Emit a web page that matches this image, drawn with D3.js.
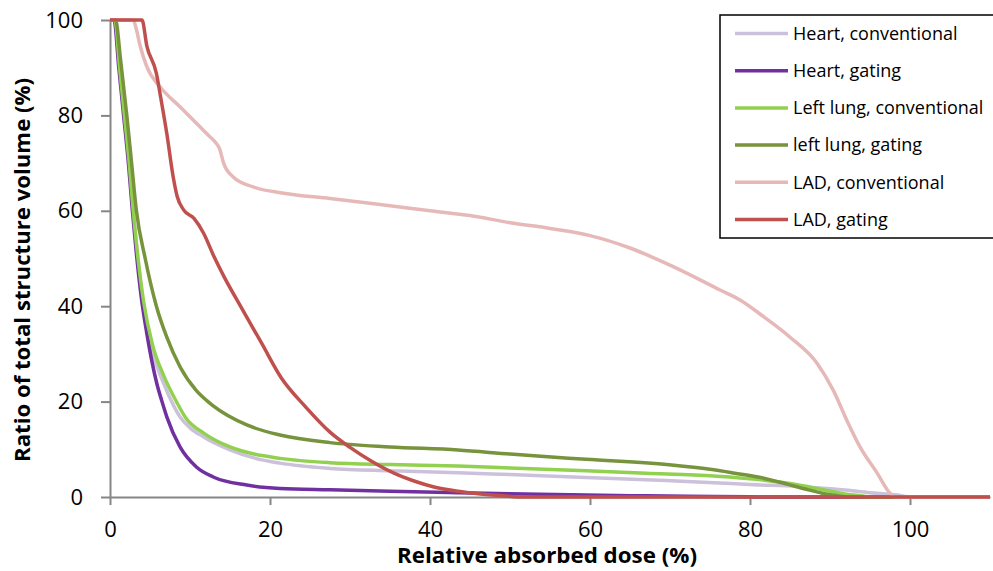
<!DOCTYPE html>
<html><head><meta charset="utf-8">
<script src="https://cdn.jsdelivr.net/npm/d3@7"></script>
<style>body{margin:0;background:#fff}svg{display:block}</style>
</head><body>
<svg id="chart" width="993" height="571"></svg>
<script>
const seriesNames = ["Heart, conventional","Heart, gating","Left lung, conventional","left lung, gating","LAD, conventional","LAD, gating"];
const seriesColors = ["#CCC1DA","#7030A0","#92D050","#77933C","#E6B9B8","#C0504D"];
const xTicks = [0,20,40,60,80,100];
const yTicks = [0,20,40,60,80,100];
// [dose, volume]
const heartConventional = [[0,100],[0.6,100],[1.2,90],[1.8,80],[2.4,70],[2.9,60],[3.5,50],[4.1,41],[5.2,31],[6.7,23.8],[8.0,19],[8.75,16.8],[10,14.5],[11.7,12.6],[15,9.9],[18,8.2],[21.25,7.1],[27.5,6.0],[35,5.5],[43.5,5.1],[50,4.7],[59.5,4.1],[67,3.6],[75.5,3.0],[80,2.6],[86.1,2.2],[91.5,1.5],[95,0.9],[98.4,0.4],[100,0],[110,0]];
const heartGating = [[0,100],[0.5,100],[1.1,90],[1.7,80],[2.3,70],[2.8,60],[3.3,51],[3.9,42],[4.6,34.3],[5.85,23.8],[6.5,20],[7.1,16.8],[8.75,10.5],[10.8,6.3],[12.9,4.2],[17.1,2.5],[21.25,1.8],[27.5,1.5],[35,1.2],[43.5,0.9],[50,0.7],[59.5,0.4],[67,0.25],[75.5,0.1],[80,0.03],[82,0],[110,0]];
const leftLungConventional = [[0,100],[0.6,100],[1.2,90],[1.8,80],[2.4,70],[2.9,60],[3.5,50],[4.2,41],[5.3,32],[6.7,25.5],[8.3,20],[9.5,16.5],[11.7,13.4],[15,10.5],[18,9.0],[21.25,8.1],[27.5,7.2],[35,6.8],[43.5,6.5],[50,6.1],[59.5,5.5],[67,5.0],[75.5,4.4],[80.9,3.7],[86.1,2.5],[88,1.9],[90.4,1.1],[92,0.6],[94.1,0.2],[95,0],[110,0]];
const leftLungGating = [[0,100],[0.7,100],[1.3,92],[2.1,80],[2.7,70],[3.3,60],[4.4,50],[5.8,40],[7.1,33.5],[8.75,27.3],[10.8,22.3],[12.1,20.2],[12.9,19.1],[17.1,15.1],[21.25,13],[27.5,11.4],[35,10.5],[43.5,9.85],[50,9],[59.5,7.9],[70.2,6.7],[75,5.8],[78.1,5.0],[81,4.2],[83.5,3.2],[85.5,2.3],[87.3,1.5],[89,0.8],[90.4,0.4],[92,0],[110,0]];
const ladConventional = [[0,100],[2.9,100],[3.3,98],[3.75,94.7],[4.6,90.2],[6.25,86],[8.75,81.8],[11.25,77.6],[12.5,75.5],[13.3,74.1],[13.7,73],[14.2,70],[15.4,67.1],[17.9,65],[21.7,63.7],[27.5,62.6],[33,61.5],[40,60],[45,59],[50,57.5],[55,56.3],[60,54.8],[65,52.2],[70,48.6],[76.25,43.4],[78.75,41.3],[81.7,37.8],[85,33.5],[88.4,28],[90.4,22.4],[92.1,16.1],[93.75,10.5],[95.9,5],[97.5,0.8],[98.1,0],[110,0]];
const ladGating = [[0,100],[4.0,100],[4.6,94.6],[5.8,88.8],[6.25,84.6],[7.1,76.2],[7.9,67.1],[8.4,63],[9.2,60.2],[10.5,58.4],[11.7,55.3],[13.0,50.4],[14.25,46.2],[16.35,39.9],[18.9,32.4],[21.4,25],[24.5,18.8],[27.5,13.6],[30,10.4],[32.8,7.4],[35.5,5.0],[38.1,3.3],[40.5,2.1],[43.5,1.2],[46,0.7],[48.8,0.3],[52,0],[110,0]];
const allSeries = [heartConventional,heartGating,leftLungConventional,leftLungGating,ladConventional,ladGating];

const svg = d3.select("#chart");
const font = "'Open Sans', sans-serif";
const x = d3.scaleLinear().domain([0,110]).range([110,990]);
const y = d3.scaleLinear().domain([0,100]).range([497,20]);
const axisColor = "#868686";

const line = d3.line().x(d=>x(d[0])).y(d=>y(d[1])).curve(d3.curveMonotoneX);

// axes
const gx = svg.append("g").attr("transform","translate(0,497)")
  .call(d3.axisBottom(x).tickValues(xTicks).tickSize(8).tickPadding(16).tickSizeOuter(0));
const gy = svg.append("g").attr("transform","translate(110,0)")
  .call(d3.axisLeft(y).tickValues(yTicks).tickSize(9).tickPadding(18).tickSizeOuter(0));
[gx,gy].forEach(g=>{
  g.select(".domain").attr("stroke",axisColor).attr("stroke-width",2);
  g.selectAll(".tick line").attr("stroke",axisColor).attr("stroke-width",2);
  g.selectAll(".tick text").attr("fill","#000").style("font-family",font).style("font-size","22px");
});

// lines
allSeries.forEach((s,i)=>{
  svg.append("path").datum(s).attr("d",line).attr("fill","none")
    .attr("stroke",seriesColors[i]).attr("stroke-width",3.5).attr("stroke-linejoin","round");
});

// titles
svg.append("text").attr("x",547).attr("y",563).attr("text-anchor","middle")
  .style("font-family",font).style("font-weight","bold").style("font-size","21px")
  .attr("textLength",300).attr("lengthAdjust","spacingAndGlyphs")
  .text("Relative absorbed dose (%)");
svg.append("text").attr("transform","translate(30,270) rotate(-90)").attr("text-anchor","middle")
  .style("font-family",font).style("font-weight","bold").style("font-size","22px")
  .attr("textLength",384).attr("lengthAdjust","spacingAndGlyphs")
  .text("Ratio of total structure volume (%)");

// legend
const lg = svg.append("g");
lg.append("rect").attr("x",720).attr("y",15).attr("width",290).attr("height",223)
  .attr("fill","#fff").attr("stroke","#000").attr("stroke-width",1.5);
const rowY = d3.scalePoint().domain(seriesNames).range([33.5,219.5]);
seriesNames.forEach((n,i)=>{
  const yy = rowY(n);
  lg.append("line").attr("x1",735).attr("x2",788).attr("y1",yy).attr("y2",yy)
    .attr("stroke",seriesColors[i]).attr("stroke-width",3.5);
  lg.append("text").attr("x",793).attr("y",yy).attr("dy","0.35em")
    .style("font-family",font).style("font-size","18px").text(n);
});
</script>
</body></html>
